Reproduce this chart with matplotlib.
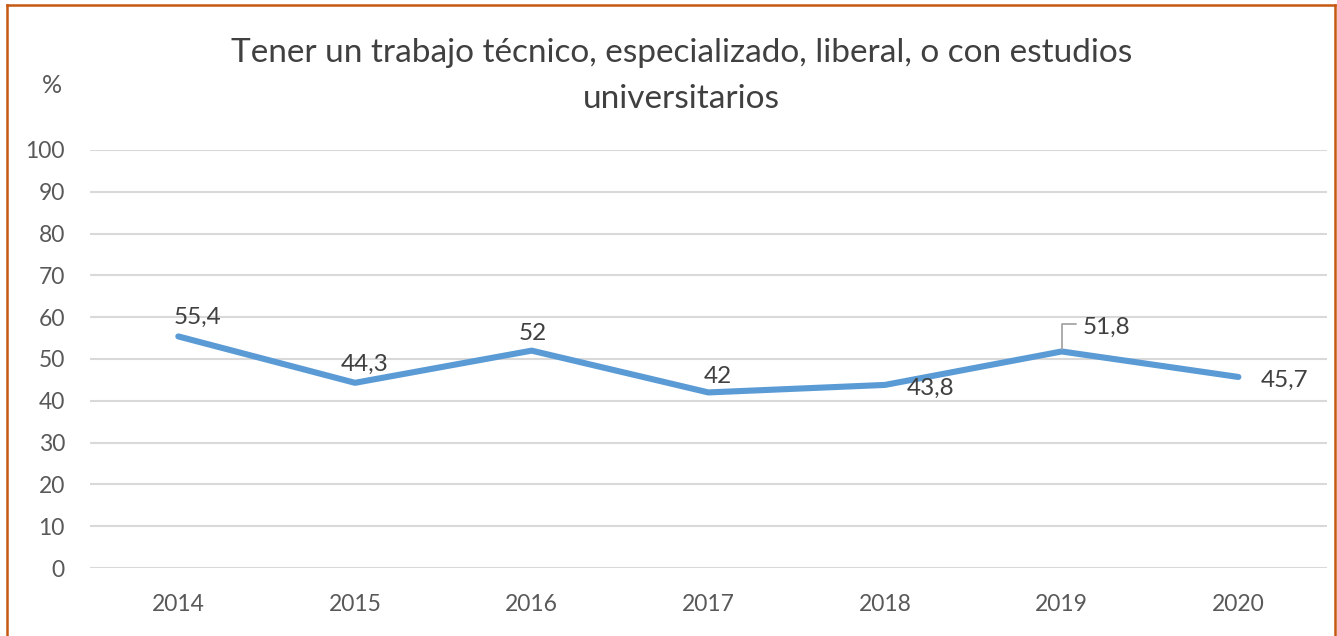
import matplotlib.pyplot as plt
from matplotlib.lines import Line2D

years = ['2014', '2015', '2016', '2017', '2018', '2019', '2020']
values = [55.4, 44.3, 52, 42, 43.8, 51.8, 45.7]
labels = ['55,4', '44,3', '52', '42', '43,8', '51,8', '45,7']
# label offsets in pixels (dx, dy) relative to each point
offsets = [(19, 19), (10, 18), (1, 17), (10, 16), (46, -3), (45, 24), (46, -3)]

plt.rcParams['font.family'] = ['Lato', 'DejaVu Sans']

fig = plt.figure(figsize=(13.37, 6.36), dpi=100)
ax = fig.add_axes([0.0673, 0.1069, 0.925, 0.6573])

x = range(len(years))
ax.plot(x, values, color='#5B9BD5', lw=4.4, solid_capstyle='round', solid_joinstyle='round', zorder=3)

for i, (v, lab) in enumerate(zip(values, labels)):
    dx, dy = offsets[i]
    ax.annotate(lab, (i, v), xytext=(dx, dy), textcoords='offset pixels',
                ha='center', va='center', fontsize=17.5, color='#404040')

# leader line for 2019 label
ax.annotate('', xy=(5, values[5]), xytext=(14, 27), textcoords='offset pixels',
            arrowprops=dict(arrowstyle='-', color='#A6A6A6', lw=1.3, shrinkA=0, shrinkB=2,
                            connectionstyle='angle,angleA=0,angleB=90,rad=0'))

ax.set_xlim(-0.5, 6.5)
ax.set_ylim(0, 100)
ax.set_yticks(range(0, 101, 10))
ax.set_xticks(list(x))
ax.set_xticklabels(years)
ax.grid(axis='y', color='#D9D9D9', lw=1.5)
ax.set_axisbelow(True)
for s in ax.spines.values():
    s.set_visible(False)
ax.tick_params(length=0, labelsize=16.5, colors='#595959')
ax.tick_params(axis='y', pad=18)
ax.tick_params(axis='x', pad=19)

fig.text(0.510, 0.917, 'Tener un trabajo técnico, especializado, liberal, o con estudios',
         ha='center', va='center', fontsize=24, color='#404040')
fig.text(0.510, 0.844, 'universitarios',
         ha='center', va='center', fontsize=24, color='#404040')
fig.text(0.039, 0.866, '%', ha='center', va='center', fontsize=18, color='#595959')

# chart border (bottom is cropped off)
bc = '#C65911'
fig.add_artist(Line2D([0.0055, 0.0055], [0, 0.992], transform=fig.transFigure, color=bc, lw=1.8))
fig.add_artist(Line2D([0.0055, 0.9985], [0.992, 0.992], transform=fig.transFigure, color=bc, lw=1.8))
fig.add_artist(Line2D([0.9985, 0.9985], [0, 0.992], transform=fig.transFigure, color=bc, lw=1.8))

fig.savefig('out.png', dpi=100)
